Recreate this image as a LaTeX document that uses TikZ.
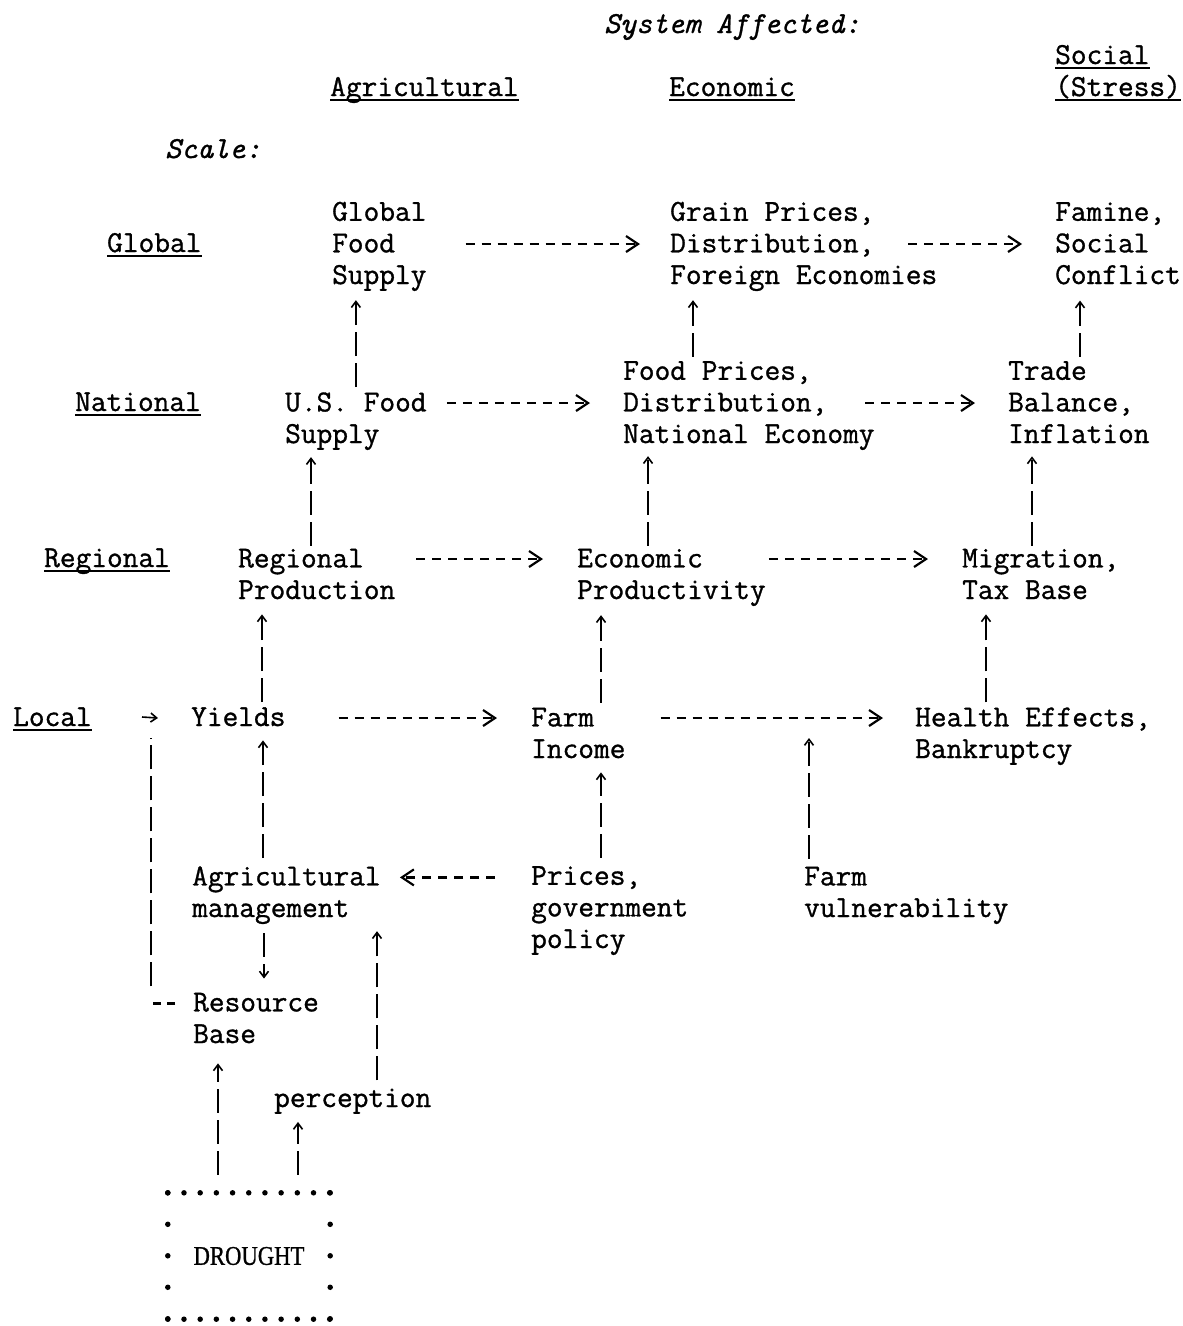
\documentclass[tikz,border=0pt]{standalone}
\usepackage{fontspec}
\setmonofont[FakeBold=1]{Latin Modern Mono}
\newfontfamily\droughtfont[FakeBold=1]{Liberation Serif}
\usetikzlibrary{arrows.meta}

\begin{document}
\begin{tikzpicture}[x=1pt,y=-1pt,
  txt/.style={anchor=base west,inner sep=0pt,align=left,
    font=\ttfamily\fontsize{30.5}{31.6}\selectfont},
  ital/.style={txt,font=\ttfamily\itshape\fontsize{30.5}{31.6}\selectfont},
  uline/.style={line width=2pt},
  flow/.style={line width=2.2pt,dash pattern=on 9pt off 7pt,
    -{Straight Barb[length=12pt,width=16pt,line width=2.2pt]}},
  rise/.style={line width=2.6pt,dash pattern=on 24pt off 7pt,
    -{Straight Barb[length=6pt,width=9pt,line width=1.6pt]}},
  dot/.style={line width=5.5pt,line cap=round}]
\useasboundingbox (0,0) rectangle (1183,1326);

% headings
\node[ital] (sysaff) at (604,33) {System Affected:};
\node[txt] (social) at (1055,64) {Social};
\node[txt] (stress) at (1055,96) {(Stress)};
\node[txt] (agri) at (330,96) {Agricultural};
\node[txt] (econ) at (669,96) {Economic};
\node[ital] (scale) at (165,158) {Scale:};
\node[txt] (lglobal) at (107,252) {Global};
\node[txt] (lnational) at (75,411) {National};
\node[txt] (lregional) at (44,567) {Regional};
\node[txt] (llocal) at (13,726) {Local};
\foreach \n in {social,stress,agri,econ,lglobal,lnational,lregional,llocal}
  \draw[uline] ([yshift=-3.5pt]\n.base west) -- ([yshift=-3.5pt]\n.base east);

% boxes (placed at the baseline of their last line)
\node[txt] (gfood) at (332,284) {Global\\Food\\Supply};
\node[txt] (grain) at (670,284) {Grain Prices,\\Distribution,\\Foreign Economies};
\node[txt] (famine) at (1055,284) {Famine,\\Social\\Conflict};
\node[txt] (usfood) at (285,443) {U.S. Food\\Supply};
\node[txt] (foodpr) at (623,443) {Food Prices,\\Distribution,\\National Economy};
\node[txt] (trade) at (1008,443) {Trade\\Balance,\\Inflation};
\node[txt] (regprod) at (238,599) {Regional\\Production};
\node[txt] (econprod) at (577,599) {Economic\\Productivity};
\node[txt] (migr) at (962,599) {Migration,\\Tax Base};
\node[txt] (yields) at (191,726) {Yields};
\node[txt] (farminc) at (531,758) {Farm\\Income};
\node[txt] (health) at (915,758) {Health Effects,\\Bankruptcy};
\node[txt] (agman) at (192,917) {Agricultural\\management};
\node[txt] (prices) at (531,948) {Prices,\\government\\policy};
\node[txt] (farmvul) at (804,917) {Farm\\vulnerability};
\node[txt] (resbase) at (193,1043) {Resource\\Base};
\node[txt] (percep) at (274,1107) {perception};
\node[inner sep=0pt,minimum width=162pt,minimum height=126pt,
  font=\droughtfont\fontsize{27}{27}\selectfont] (drought) at (249,1256)
  {\scalebox{0.84}[1]{DROUGHT}};
\draw[dot,dash pattern=on 0pt off 16.19pt] (drought.north west) -- (drought.north east);
\draw[dot,dash pattern=on 0pt off 16.19pt] (drought.south west) -- (drought.south east);
\draw[dot,dash pattern=on 0pt off 31.49pt] (drought.north west) -- (drought.south west);
\draw[dot,dash pattern=on 0pt off 31.49pt] (drought.north east) -- (drought.south east);

% rows
\coordinate (rowG) at ([yshift=8pt]lglobal.base);
\coordinate (rowN) at ([yshift=8pt]lnational.base);
\coordinate (rowR) at ([yshift=8pt]lregional.base);
\coordinate (rowL) at ([yshift=8pt]llocal.base);
\coordinate (rowM) at ([yshift=39.6pt]agman.base);
\coordinate (rowB) at ([yshift=39.6pt]resbase.base);

% across
\draw[flow,shorten <=39pt,shorten >=30pt] (gfood.east |- rowG) -- (grain.west |- rowG);
\draw[flow,shorten >=33pt] ([xshift=238pt]grain.west |- rowG) -- (famine.west |- rowG);
\draw[flow,shorten <=20pt,shorten >=33pt] (usfood.east |- rowN) -- (foodpr.west |- rowN);
\draw[flow,shorten >=33pt] ([xshift=242pt]foodpr.west |- rowN) -- (trade.west |- rowN);
\draw[flow,shorten <=21pt,shorten >=34pt] (regprod.east |- rowR) -- (econprod.west |- rowR);
\draw[flow,shorten <=3pt,shorten >=34pt] (econprod.east |- rowR) -- (migr.west |- rowR);
\draw[flow,shorten <=53pt,shorten >=34pt] (yields.east |- rowL) -- (farminc.west |- rowL);
\draw[flow,shorten <=35pt,shorten >=32pt] (farminc.east |- rowL) -- (health.west |- rowL);
\draw[flow,shorten <=36pt,shorten >=19pt] (prices.west |- rowM) -- (agman.east |- rowM);

% up
\draw[rise,shorten <=5pt,shorten >=9pt] (usfood.north) -- (usfood.north |- gfood.south);
\draw[rise,shorten <=4pt,shorten >=9pt] ([xshift=70pt]foodpr.north west) -- ([xshift=70pt]foodpr.north west |- grain.south);
\draw[rise,shorten <=4pt,shorten >=16pt] ([xshift=72pt]trade.north west) -- ([xshift=72pt]trade.north west |- famine.south);
\draw[rise,shorten <=3pt,shorten >=7pt] ([xshift=73pt]regprod.north west) -- ([xshift=73pt]regprod.north west |- usfood.south);
\draw[rise,shorten <=3pt,shorten >=6pt] ([xshift=71pt]econprod.north west) -- ([xshift=71pt]econprod.north west |- foodpr.south);
\draw[rise,shorten <=3pt,shorten >=13pt] ([xshift=70pt]migr.north west) -- ([xshift=70pt]migr.north west |- trade.south);
\draw[rise,shorten <=5pt,shorten >=15pt] ([xshift=71pt]yields.north west) -- ([xshift=71pt]yields.north west |- regprod.south);
\draw[rise,shorten <=5pt,shorten >=9pt] ([xshift=70pt]farminc.north west) -- ([xshift=70pt]farminc.north west |- econprod.south);
\draw[rise,shorten <=5pt,shorten >=15pt] ([xshift=71pt]health.north west) -- ([xshift=71pt]health.north west |- migr.south);
\draw[rise,shorten <=8pt,shorten >=14pt] ([xshift=71pt]agman.north west) -- ([xshift=71pt]agman.north west |- yields.south);
\draw[rise,shorten <=8pt,shorten >=14pt] ([xshift=70pt]prices.north west) -- ([xshift=70pt]prices.north west |- farminc.south);
\coordinate (impact) at (809,738);
\draw[rise,shorten <=8pt] ([xshift=5pt]farmvul.north west) -- (impact);
\draw[rise,shorten <=9pt,shorten >=14pt] ([xshift=72pt]agman.south west) -- ([xshift=72pt]agman.south west |- resbase.north);
\draw[rise,shorten <=8pt,shorten >=7pt] ([xshift=103pt]percep.north west) -- ([xshift=103pt]percep.north west |- agman.south);
\draw[rise,shorten <=18pt,shorten >=20pt] ([xshift=-31pt]drought.north) -- ([xshift=-31pt]drought.north |- resbase.south);
\draw[rise,shorten <=18pt,shorten >=8pt] ([xshift=49pt]drought.north) -- ([xshift=49pt]drought.north |- percep.south);

% side loop
\coordinate (bend) at (151,717);
\draw[rise,-,dash pattern=on 8pt off 6pt on 8pt off 19pt
  on 24pt off 7pt on 24pt off 7pt on 24pt off 7pt on 24pt off 7pt
  on 24pt off 7pt on 24pt off 7pt on 24pt off 7pt on 24pt off 7pt]
  ([xshift=-18pt]resbase.west |- rowB) -| ([yshift=-21pt]bend);
\draw[rise,line width=1.6pt] ([xshift=-9pt]bend) -- ([xshift=-33pt]yields.west |- rowL);
\end{tikzpicture}
\end{document}
